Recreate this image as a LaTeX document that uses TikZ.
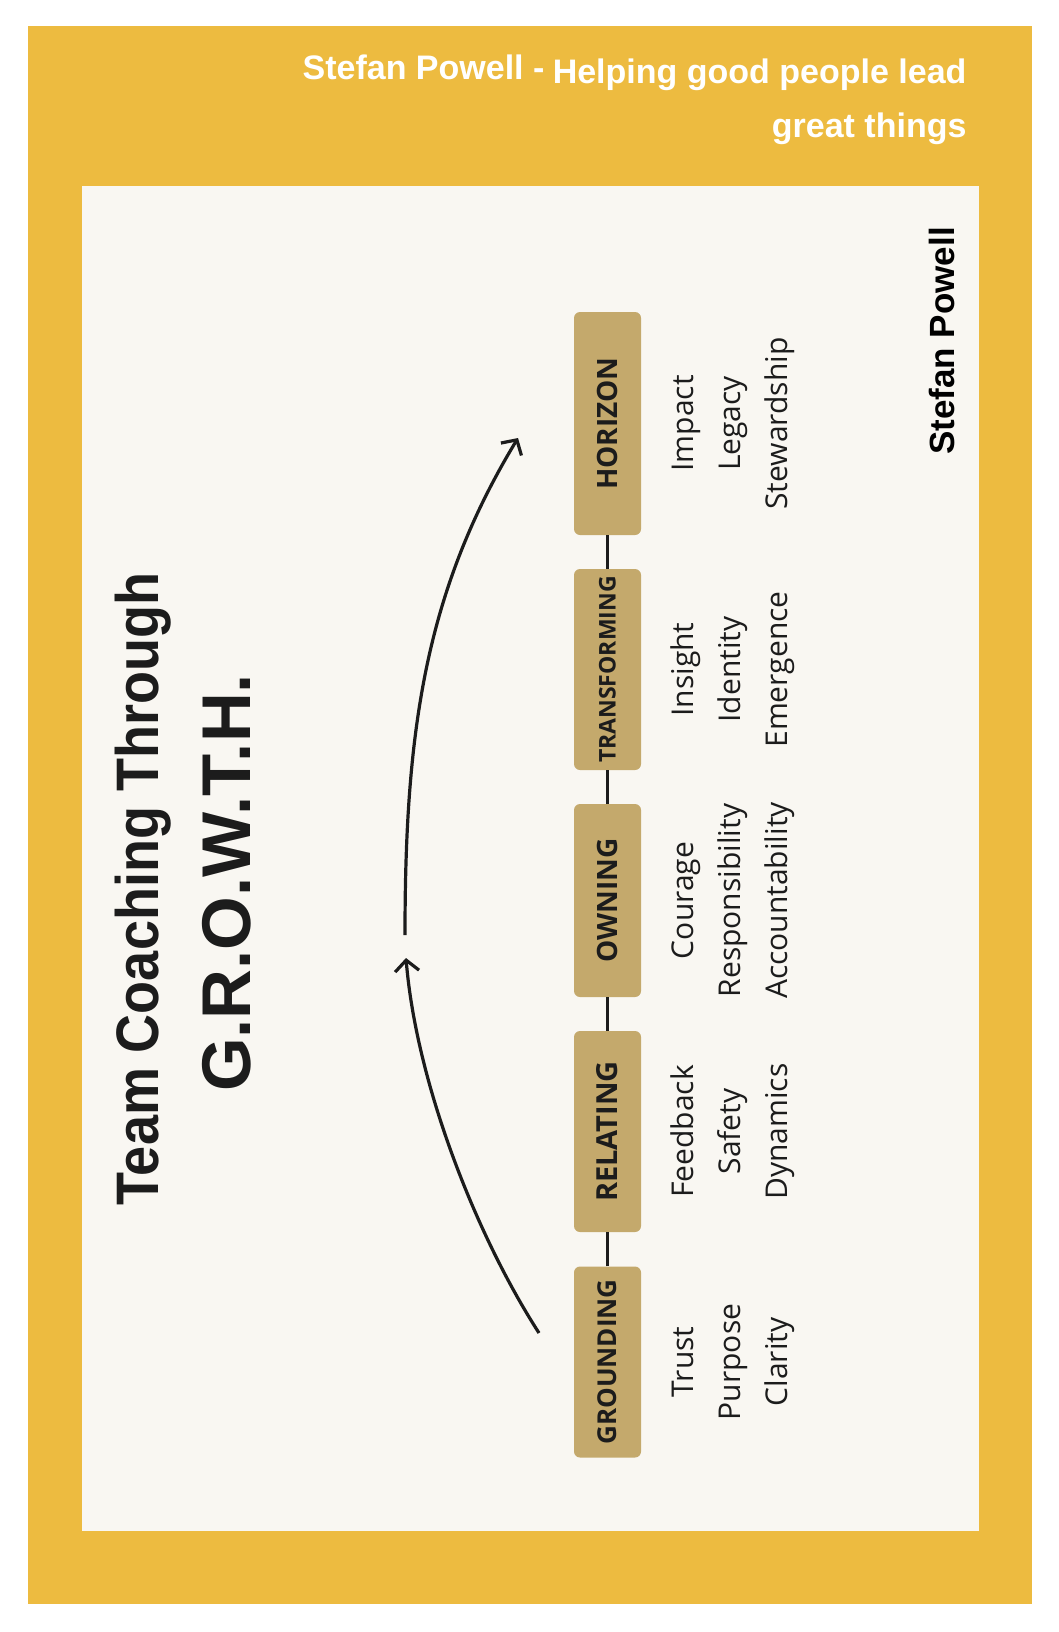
\documentclass[tikz,border=0pt]{standalone}
\usepackage{fontspec}
\setmainfont{Liberation Sans}
\newfontfamily\titlefont[FakeStretch=0.9]{Liberation Sans}
\newfontfamily\stagefont{Open Sans}
\newfontfamily\wordfont{Open Sans}
\usepackage{tikz}
\usetikzlibrary{arrows.meta}
\usepackage{xcolor}
\definecolor{growthyellow}{HTML}{EDBB40}
\definecolor{growthcream}{HTML}{F9F7F2}
\definecolor{growthtan}{HTML}{C4A96C}
\definecolor{growthink}{HTML}{1C1C1C}

\begin{document}
\begin{tikzpicture}[x=1pt, y=-1pt,
	stage/.style={fill=growthtan, rounded corners=6pt, rotate=90, minimum height=67pt, inner sep=0pt, text=growthink, font=\stagefont\bfseries\fontsize{28}{30}\selectfont},
	word/.style={rotate=90, anchor=base, inner sep=0pt, text=growthink, font=\wordfont\fontsize{30}{32}\selectfont},
	link/.style={draw=growthink, line width=3.5pt},
	sweep/.style={draw=growthink, line width=3.2pt, -{Straight Barb[length=11pt, width=24pt]}}]
		\useasboundingbox (0,0) rectangle (1058,1632);
		\fill[growthyellow] (28,26) rectangle (1032,1604);
		\fill[growthcream] (82,186) rectangle (979,1531);
		% header
		\node[anchor=base east, text=white, font=\bfseries\fontsize{34}{36}\selectfont] (author) at (548,80) {Stefan Powell -};
		\node[anchor=base east, text=white, font=\bfseries\fontsize{34}{36}\selectfont] (tagline) at (970,84) {Helping good people lead};
		\node[anchor=base east, text=white, font=\bfseries\fontsize{34}{36}\selectfont] (tagend) at (970,138) {great things};
		% title
		\node[rotate=90, anchor=base, text=growthink, font=\titlefont\bfseries\fontsize{60}{64}\selectfont] (title) at (158,889) {Team Coaching Through};
		\node[rotate=90, anchor=base, text=growthink, font=\bfseries\fontsize{69}{72}\selectfont] (acronym) at (250,883) {G.R.O.W.T.H.};
		\node[rotate=90, anchor=base, text=black, font=\bfseries\fontsize{35}{37}\selectfont] (signature) at (954,341) {Stefan Powell};
		% stages
		\node[stage, minimum width=223pt] (horizon) at (607.5,423.5) {HORIZON};
		\node[stage, minimum width=201pt, font=\stagefont\bfseries\fontsize{23}{25}\selectfont] (transforming) at (607.5,669.5) {TRANSFORMING};
		\node[stage, minimum width=193pt] (owning) at (607.5,900.5) {OWNING};
		\node[stage, minimum width=201pt, font=\stagefont\bfseries\fontsize{29}{31}\selectfont] (relating) at (607.5,1131.5) {RELATING};
		\node[stage, minimum width=191pt, font=\stagefont\bfseries\fontsize{26}{28}\selectfont] (grounding) at (607.5,1362) {GROUNDING};
		\draw[link] (grounding) -- (relating);
		\draw[link] (relating) -- (owning);
		\draw[link] (owning) -- (transforming);
		\draw[link] (transforming) -- (horizon);
		% words
		\node[word] (impact) at (693,423.5) {Impact};
		\node[word] (legacy) at (740,423.5) {Legacy};
		\node[word] (stewardship) at (787,423.5) {Stewardship};
		\node[word] (insight) at (693,669.5) {Insight};
		\node[word] (identity) at (740,669.5) {Identity};
		\node[word] (emergence) at (787,669.5) {Emergence};
		\node[word] (courage) at (693,900.5) {Courage};
		\node[word] (responsibility) at (740,900.5) {Responsibility};
		\node[word] (accountability) at (787,900.5) {Accountability};
		\node[word] (feedback) at (693,1131.5) {Feedback};
		\node[word] (safety) at (740,1131.5) {Safety};
		\node[word] (dynamics) at (787,1131.5) {Dynamics};
		\node[word] (trust) at (693,1362) {Trust};
		\node[word] (purpose) at (740,1362) {Purpose};
		\node[word] (clarity) at (787,1362) {Clarity};
		% arcs
		\coordinate (lowstart) at (539,1333);
		\coordinate (lowend) at (406,958);
		\coordinate (highstart) at (405,935);
		\coordinate (highend) at (518,438);
		\draw[sweep] (lowstart) .. controls (474,1232) and (416,1080) .. (lowend);
		\draw[sweep] (highstart) .. controls (405,735) and (424,593) .. (highend);
	\end{tikzpicture}
\end{document}
